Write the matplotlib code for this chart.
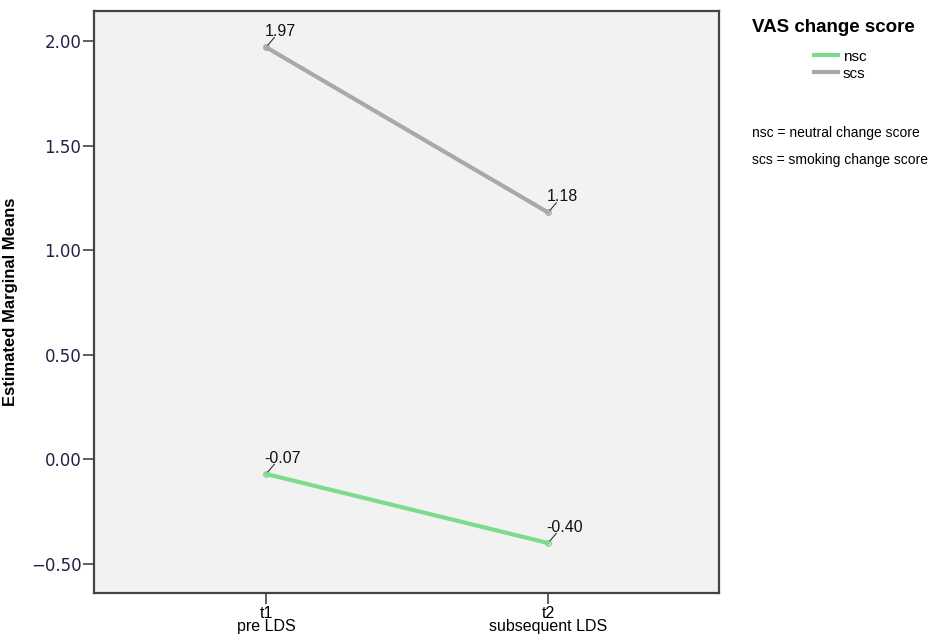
""" Estimated marginal means of VAS change scores. """
import matplotlib
matplotlib.use('Agg')
import matplotlib.pyplot as plt
from matplotlib.lines import Line2D

times = ['t1\npre LDS', 't2\nsubsequent LDS']
nsc = [-0.07, -0.40]
scs = [1.97, 1.18]
yticks = [-0.5, 0.0, 0.5, 1.0, 1.5, 2.0]
series = [('nsc', nsc, '#7ddb8e'), ('scs', scs, '#a9a9a9')]

fig = plt.figure(figsize=(9.36, 6.42), dpi=100)
ax = fig.add_axes([94 / 936, 1 - 593 / 642, 625 / 936, 582 / 642])
ax.set_facecolor('#f2f2f2')

xs = list(range(len(times)))
for name, vals, c in series:
    ax.plot(xs, vals, color=c, lw=3, solid_capstyle='round', zorder=2)
    ax.plot(xs, vals, 'o', ms=4, mfc='none', mec=c, mew=1, zorder=3)
    for x, v in zip(xs, vals):
        ax.annotate('', xy=(x, v), xytext=(6, 7), textcoords='offset points',
                    arrowprops=dict(arrowstyle='-', color='#333333', lw=0.8,
                                    shrinkA=0, shrinkB=2))
        ax.annotate(f'{v:.2f}', xy=(x, v), xytext=(-1, 8),
                    textcoords='offset points', fontsize=11.5,
                    family='Liberation Sans', color='#111111')

ax.set_xlim(-0.61, 1.606)
ax.set_ylim(-0.639, 2.143)
ax.set_xticks(xs)
ax.set_xticklabels(times, family='Liberation Sans', fontsize=11.5,
                   linespacing=0.9)
ax.set_yticks(yticks)
ax.set_yticklabels([f'{t:.2f}'.replace('-', '\u2212') for t in yticks],
                   family='DejaVu Sans', fontsize=12, color='#222244')
ax.tick_params(length=8, width=1.2, color='#444444', pad=1)
for sp in ax.spines.values():
    sp.set_color('#444444')
    sp.set_linewidth(1.6)
ax.set_ylabel('Estimated Marginal Means', family='Liberation Sans',
              fontweight='bold', fontsize=12)
ax.yaxis.set_label_coords((18 - 94) / 625, 0.5)

handles = [Line2D([], [], color=c, lw=3) for _, _, c in series]
leg = fig.legend(handles, [n for n, _, _ in series], loc='upper left',
                 bbox_to_anchor=(806 / 936, 1 - 42 / 642), frameon=False,
                 handlelength=1.6, handletextpad=0.3, labelspacing=0.2,
                 borderpad=0, prop={'family': 'Liberation Sans', 'size': 11})
fig.text(752 / 936, 1 - 28 / 642, 'VAS change score', family='Liberation Sans',
         fontweight='bold', fontsize=13.5, va='center')
fig.text(752 / 936, 1 - 133 / 642, 'nsc = neutral change score',
         family='Liberation Sans', fontsize=10, va='center')
fig.text(752 / 936, 1 - 160 / 642, 'scs = smoking change score',
         family='Liberation Sans', fontsize=10, va='center')

fig.savefig('out.png', dpi=100)
